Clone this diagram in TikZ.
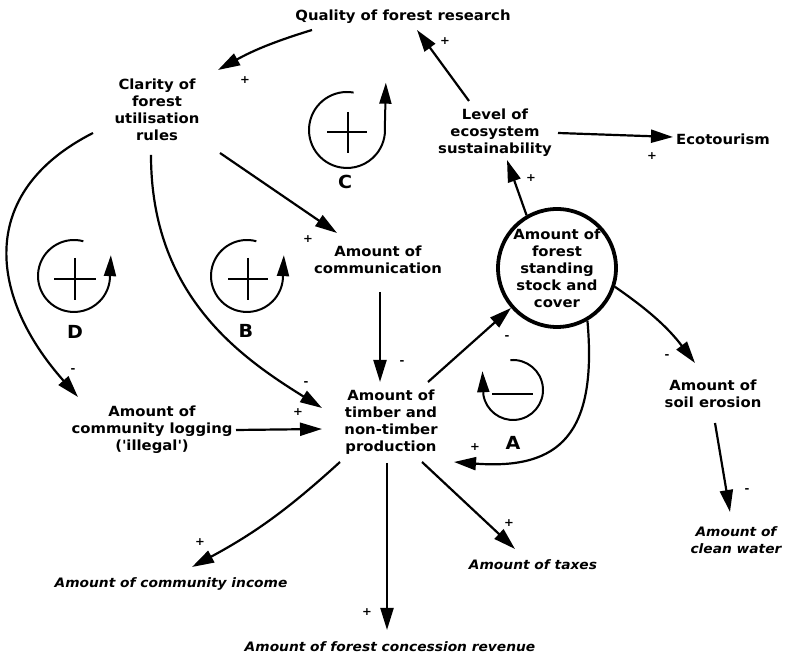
\documentclass[tikz,border=0pt]{standalone}
\usepackage{fontspec}
\setmainfont{DejaVu Sans Bold}[FakeStretch=1.06, ItalicFont={DejaVu Sans Bold Oblique}, BoldFont={DejaVu Sans Bold}]
\usetikzlibrary{arrows.meta,calc,positioning}
\tikzset{
  var/.style={align=center, inner sep=1pt, font=\fontsize{14}{17}\selectfont},
  outvar/.style={var, font=\fontsize{13}{17}\selectfont\itshape},
  stockvar/.style={circle, draw, line width=3.8pt, minimum size=118pt, inner sep=0pt,
                   align=center, font=\fontsize{14}{17}\selectfont},
  link/.style={-{Triangle[length=22pt,width=13pt]}, line width=2.2pt},
  sign/.style={font=\fontsize{11}{11}\selectfont, inner sep=0pt},
  looparc/.style={-{Triangle[length=21pt,width=12pt]}, line width=2pt},
  loopmark/.style={line width=2.8pt},
  looplabel/.style={font=\fontsize{18}{18}\selectfont},
}
\begin{document}
\begin{tikzpicture}[x=1pt,y=1pt]
  \useasboundingbox (0,0) rectangle (787,655);

  % variables
  \node[var] (quality) at (403,638) {Quality of forest research};
  \node[var] (clarity) at (157,545) {Clarity of\\forest\\utilisation\\rules};
  \node[var] (level) at (495,522) {Level of\\ecosystem\\sustainability};
  \node[var] (eco) at (723,516) {Ecotourism};
  \node[stockvar] (stock) at (557,387) {Amount of\\forest\\standing\\stock and\\cover};
  \node[var] (comm) at (378,395) {Amount of\\communication};
  \node[var] (timber) at (391,233) {Amount of\\timber and\\non-timber\\production};
  \node[var] (logging) at (152,225) {Amount of\\community logging\\(\textquotesingle illegal\textquotesingle)};
  \node[var] (soil) at (713,261) {Amount of\\soil erosion};
  \node[outvar] (water) at (736,115) {Amount of\\clean water};
  \node[outvar] (income) at (171,71) {Amount of community income};
  \node[outvar] (revenue) at (390,8) {Amount of forest concession revenue};
  \node[outvar] (taxes) at (533,90) {Amount of taxes};

  % causal links
  \draw[link] ($(quality)+(-91,-13)$) to[bend right=6] ($(clarity)+(61,40)$);
  \draw[link] ($(level)+(-26,32)$) -- ($(quality)+(14,-13)$);
  \draw[link] ($(level)+(63,0)$) -- ($(eco)+(-50,2)$);
  \draw[link] (stock.120) -- ($(level)+(12,-27)$);
  \draw[link] ($(timber)+(37,40)$) -- (stock.221);
  \draw[link] (stock.-60) .. controls +(10,-113) and +(106,-8) .. ($(timber)+(63,-40)$);
  \draw[link] (stock.-18) to[bend left=9] ($(soil)+(-18,31)$);
  \draw[link] ($(soil)+(2,-29)$) -- ($(water)+(-6,28)$);
  \draw[link] ($(clarity)+(63,-43)$) -- ($(comm)+(-41,27)$);
  \draw[link] ($(comm)+(2,-32)$) -- ($(timber)+(-11,40)$);
  \draw[link] ($(clarity)+(-6,-45)$) .. controls +(0,-140) and +(-82,51) .. ($(timber)+(-69,14)$);
  \draw[link] ($(clarity)+(-64,-23)$) .. controls +(-118,-60) and +(-88,99) .. ($(logging)+(-74,33)$);
  \draw[link] ($(logging)+(84,0)$) -- ($(timber)+(-69,-7)$);
  \draw[link] ($(timber)+(-51,-40)$) to[bend left=7] ($(income)+(21,17)$);
  \draw[link] ($(timber)+(-4,-41)$) -- ($(revenue)+(-3,17)$);
  \draw[link] ($(timber)+(31,-40)$) -- ($(taxes)+(-18,16)$);

  % polarities
  \foreach \x/\y/\s [count=\i] in {245/575/+, 445/614/+, 652/499/+, 531/477/+,
      308/416/+, 507/317/-, 402/292/-, 306/271/-, 298/243/+, 73/284/-,
      667/298/-, 747/164/-, 200/113/+, 367/43/+, 509/132/+, 475/208/+}
    \node[sign] (sign\i) at (\x,\y) {\s};

  % loop C
  \coordinate (loopC) at (347,525);
  \draw[looparc] ($(loopC)+(80:38)$) arc[start angle=80, end angle=365, radius=38] -- ++(1,44);
  \draw[loopmark] ($(loopC)+(-20,-2)$) -- ($(loopC)+(20,-2)$)
                  ($(loopC)+(1,18)$) -- ($(loopC)+(1,-23)$);
  \node[looplabel] (labC) at (345,473) {C};

  % loop D
  \coordinate (loopD) at (74,379);
  \draw[looparc] ($(loopD)+(75:36)$) arc[start angle=75, end angle=355, radius=36] -- ++(1,24);
  \draw[loopmark] ($(loopD)+(-20,-3)$) -- ($(loopD)+(22,-3)$)
                  ($(loopD)+(1,18)$) -- ($(loopD)+(1,-24)$);
  \node[looplabel] (labD) at (75,323) {D};

  % loop B
  \coordinate (loopB) at (247,379);
  \draw[looparc] ($(loopB)+(75:36)$) arc[start angle=75, end angle=355, radius=36] -- ++(1,24);
  \draw[loopmark] ($(loopB)+(-19,-3)$) -- ($(loopB)+(21,-3)$)
                  ($(loopB)+(1,18)$) -- ($(loopB)+(1,-24)$);
  \node[looplabel] (labB) at (246,324) {B};

  % loop A
  \coordinate (loopA) at (513,265);
  \draw[looparc] ($(loopA)+(95:30)$) arc[start angle=95, end angle=-170, radius=30] -- ++(-1,24);
  \draw[loopmark] ($(loopA)+(-21,-4)$) -- ($(loopA)+(20,-4)$);
  \node[looplabel] (labA) at (513,212) {A};
\end{tikzpicture}
\end{document}
